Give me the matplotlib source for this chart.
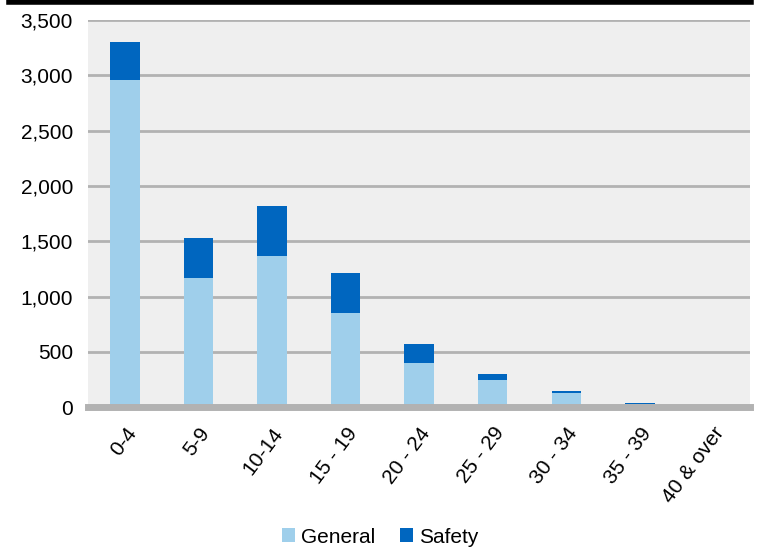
import matplotlib.pyplot as plt
import numpy as np
from matplotlib.lines import Line2D

plt.rcParams['font.family'] = ['Liberation Sans', 'DejaVu Sans']

# age bands and case counts
age_bands = ['0-4', '5-9', '10-14', '15 - 19', '20 - 24', '25 - 29', '30 - 34', '35 - 39', '40 & over']
general = [2960, 1165, 1365, 850, 402, 250, 128, 25, 8]
safety = [340, 363, 452, 361, 170, 48, 14, 12, 3]

fig = plt.figure(figsize=(7.6, 5.48), dpi=100)
ax = fig.add_axes([0.116, 0.257, 0.871, 0.7065])

x = np.arange(len(age_bands))
ax.bar(x, general, width=0.4, color='#9FCFEB', label='General', zorder=2)
ax.bar(x, safety, width=0.4, bottom=general, color='#0066BF', label='Safety', zorder=2)

ax.set_facecolor('#EFEFEF')
ax.set_xlim(-0.5, len(age_bands) - 0.5)
ax.set_ylim(0, 3500)
ax.set_yticks(np.arange(0, 3501, 500))
ax.yaxis.set_major_formatter(plt.FuncFormatter(lambda v, p: f'{int(v):,}'))
ax.grid(axis='y', color='#B2B2B2', linewidth=2, zorder=1)
ax.set_axisbelow(True)

for side in ['top', 'right', 'left']:
    ax.spines[side].set_visible(False)
ax.spines['bottom'].set_color('#B2B2B2')
ax.spines['bottom'].set_linewidth(5)
ax.spines['bottom'].set_zorder(3)

ax.tick_params(axis='both', length=0, labelsize=15, colors='black')
ax.tick_params(axis='y', pad=11)
ax.set_xticks(x)
ax.set_xticklabels(age_bands, rotation=53, ha='right', rotation_mode='anchor')
ax.tick_params(axis='x', pad=12)

# black rule across the top
fig.add_artist(Line2D([0.012, 0.988], [0.997, 0.997], color='black', linewidth=4,
                      transform=fig.transFigure))

ax.legend(loc='center', bbox_to_anchor=(0.5, 0.02), bbox_transform=fig.transFigure,
          ncol=2, frameon=False, fontsize=15, handlelength=0.65, handleheight=0.65,
          handletextpad=0.25, columnspacing=1.2)

fig.savefig('out.png', dpi=100)
